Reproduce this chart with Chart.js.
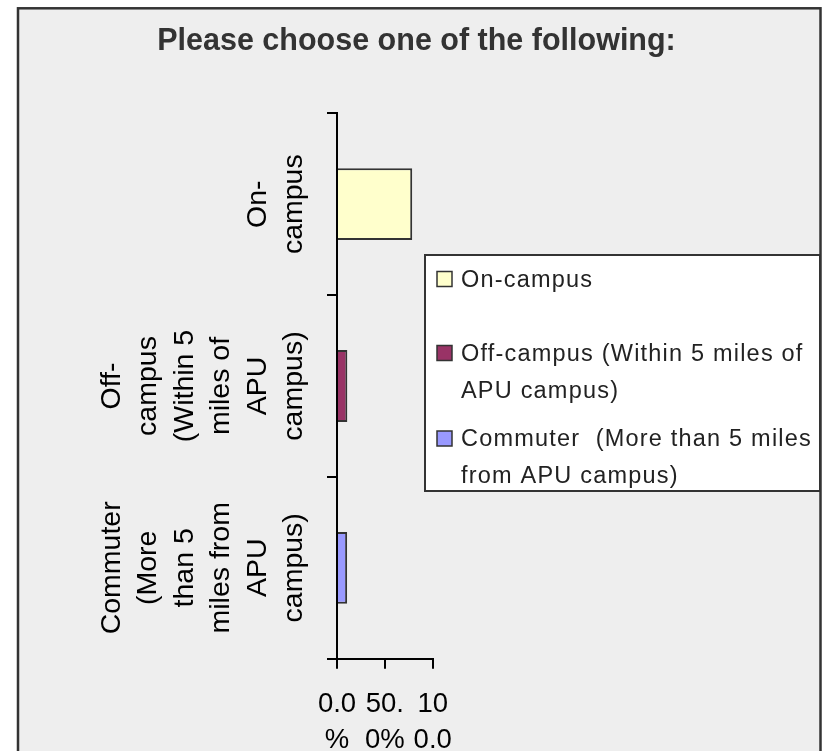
<!DOCTYPE html>
<html>

<head>
    <title>Please choose one of the following:</title>
    <style>
        body {
            margin: 0;
            background: #fff;
            overflow: hidden;
        }

        .chart-box {
            position: relative;
            width: 828px;
            height: 800px;
        }
    </style>
</head>

<body>
    <div class="chart-box">
        <canvas id="residenceChart"></canvas>
    </div>

    <script src="https://cdn.jsdelivr.net/npm/chart.js"></script>
    <script>
        var categories = ['On-campus', 'Off-campus (Within 5 miles of APU campus)', 'Commuter  (More than 5 miles from APU campus)'];
        var shares = [0.786, 0.108, 0.106];
        var barColors = ['#ffffcc', '#993366', '#9999ff'];
        var yTickLabels = [
            ['On-', 'campus'],
            ['Off-', 'campus', '(Within 5', 'miles of', 'APU', 'campus)'],
            ['Commuter', '(More', 'than 5', 'miles from', 'APU', 'campus)']
        ];
        var xTickLabels = [['0.0', '%'], ['50.', '0%'], ['10', '0.0', '%']];
        var legendLabels = [
            ['On-campus'],
            ['Off-campus (Within 5 miles of', 'APU campus)'],
            ['Commuter  (More than 5 miles', 'from APU campus)']
        ];

        Chart.defaults.font.family = "'Liberation Sans', Arial, sans-serif";

        // grey panel with dark frame, like the excel chart area
        var panelPlugin = {
            id: 'panel',
            beforeDraw: function (chart) {
                var ctx = chart.ctx;
                ctx.save();
                ctx.fillStyle = '#ffffff';
                ctx.fillRect(0, 0, chart.width, chart.height);
                ctx.fillStyle = '#eeeeee';
                ctx.fillRect(18, 8.3, 802.5, chart.height);
                ctx.strokeStyle = '#333333';
                ctx.lineWidth = 2.5;
                ctx.strokeRect(18, 8.3, 802.5, chart.height);
                ctx.restore();
            }
        };

        // legend box drawn on top of the right side
        var boxLegendPlugin = {
            id: 'boxLegend',
            afterDraw: function (chart) {
                var ctx = chart.ctx;
                var firstBaselines = [286.5, 360.5, 446];
                var lineGap = 37;
                ctx.save();
                ctx.fillStyle = '#ffffff';
                ctx.fillRect(425, 255, 395, 236);
                ctx.strokeStyle = '#333333';
                ctx.lineWidth = 2;
                ctx.strokeRect(425, 255, 395, 236);

                ctx.font = "23.5px 'Liberation Sans', Arial, sans-serif";
                ctx.textBaseline = 'alphabetic';
                ctx.textAlign = 'left';
                legendLabels.forEach(function (lines, i) {
                    var base = firstBaselines[i];
                    ctx.fillStyle = barColors[i];
                    ctx.fillRect(437, base - 15, 15, 15);
                    ctx.strokeStyle = '#333333';
                    ctx.lineWidth = 1.5;
                    ctx.strokeRect(437, base - 15, 15, 15);
                    ctx.fillStyle = '#222222';
                    ctx.letterSpacing = '1.2px';
                    lines.forEach(function (line, j) {
                        ctx.fillText(line, 461, base + j * lineGap);
                    });
                    ctx.letterSpacing = '0px';
                });
                ctx.restore();
            }
        };

        var ctx = document.getElementById('residenceChart').getContext('2d');

        var residenceChart = new Chart(ctx, {
            type: 'bar',
            data: {
                labels: categories,
                datasets: [{
                    label: 'Please choose one of the following:',
                    data: shares,
                    backgroundColor: barColors,
                    borderColor: '#333333',
                    borderWidth: 2,
                    categoryPercentage: 0.395,
                    barPercentage: 1,
                    xAxisID: 'x',
                    yAxisID: 'y'
                }]
            },
            options: {
                indexAxis: 'y',
                responsive: true,
                maintainAspectRatio: false,
                animation: false,
                layout: {
                    padding: { left: 5, top: 0, right: 0, bottom: 0 }
                },
                plugins: {
                    legend: { display: false },
                    tooltip: { enabled: false },
                    title: {
                        display: true,
                        text: 'Please choose one of the following:',
                        color: '#333333',
                        font: { size: 30.5, weight: 'bold', lineHeight: 1.2 },
                        padding: { top: 23.3, bottom: 53.4 }
                    }
                },
                scales: {
                    y: {
                        type: 'category',
                        position: 'left',
                        grid: { drawOnChartArea: false, color: '#000', lineWidth: 2, tickLength: 10, offset: true },
                        border: { color: '#000', width: 2 },
                        ticks: {
                            minRotation: 90,
                            maxRotation: 90,
                            crossAlign: 'center',
                            padding: 57.5,
                            color: '#000',
                            font: { size: 28.5, lineHeight: 1.281 },
                            callback: function (value, index) {
                                // excel keeps the last line next to the axis, so pad at the front
                                var lines = yTickLabels[index].slice();
                                while (lines.length < 6) {
                                    lines.unshift('');
                                }
                                return lines;
                            }
                        },
                        afterFit: function (scale) {
                            scale.width = 332;
                            scale.paddingTop = 0;
                            scale.paddingBottom = 0;
                        }
                    },
                    x: {
                        min: 0,
                        max: 1,
                        grid: { drawOnChartArea: false, color: '#000', lineWidth: 2, tickLength: 10 },
                        border: { color: '#000', width: 2 },
                        ticks: {
                            stepSize: 0.5,
                            maxRotation: 0,
                            autoSkip: false,
                            padding: 17,
                            color: '#000',
                            font: { size: 27.5, lineHeight: 1.33 },
                            callback: function (value, index) {
                                return xTickLabels[index];
                            }
                        },
                        afterFit: function (scale) {
                            scale.height = 141.3;
                        }
                    },
                    spacer: {
                        type: 'linear',
                        axis: 'y',
                        position: 'right',
                        grid: { display: false },
                        border: { display: false },
                        ticks: { display: false },
                        afterFit: function (scale) {
                            scale.width = 395.3;
                        }
                    }
                }
            },
            plugins: [panelPlugin, boxLegendPlugin]
        });
    </script>
</body>

</html>
